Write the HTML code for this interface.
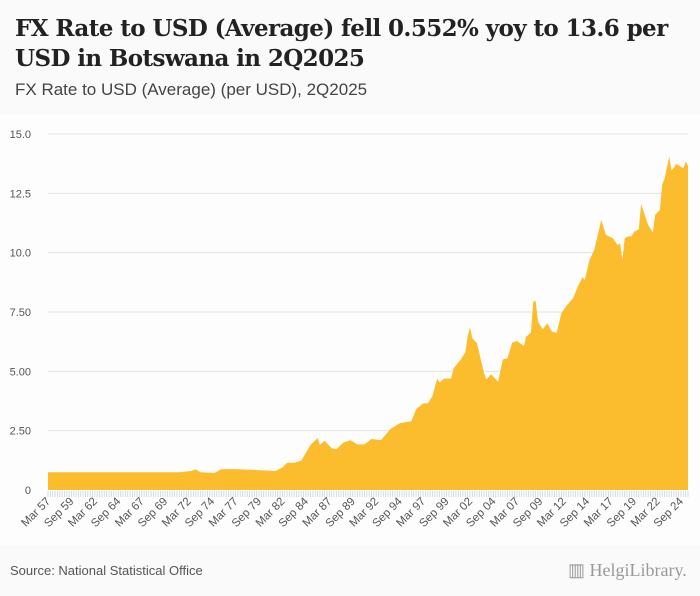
<!DOCTYPE html>
<html><head><meta charset="utf-8"><style>
body{margin:0;background:#fafafa;width:700px;height:596px;overflow:hidden;font-family:"Liberation Sans",sans-serif}
#title{position:absolute;left:15px;top:14px;width:690px;font:bold 23px/30px "DejaVu Serif","Liberation Serif",serif;color:#222;letter-spacing:-0.6px;white-space:nowrap}
#sub{position:absolute;left:15px;top:80px;font-size:17px;color:#444}
#src{position:absolute;left:10px;top:563px;font-size:13px;color:#555}
#logo{position:absolute;left:568px;top:560px;font:18px "Liberation Serif",serif;color:#999}
</style></head><body>
<div id="title">FX Rate to USD (Average) fell 0.552% yoy to 13.6 per<br>USD in Botswana in 2Q2025</div>
<div id="sub">FX Rate to USD (Average) (per USD), 2Q2025</div>
<svg id="chart" width="700" height="596" style="position:absolute;left:0;top:0"></svg>
<div id="src">Source: National Statistical Office</div>
<div id="logo">▥ HelgiLibrary.</div>
<script>
const quarterIdx=[0,56,61,63,65,71,74,80,86,93,97,100,102,105,108,112,115,116,118,121,123,126,129,132,135,138,142,146,150,155,157,160,162,164,166,167,169,172,173,176,178,179,180,181,183,185,186,187,189,192,194,196,198,200,203,204,206,207,208,209,211,213,215,217,219,221,224,226,228,229,231,233,236,238,241,243,244,245,246,247,249,250,252,253,256,258,259,261,262,263,265,266,268,271,272,273];
const values=[0.75,0.75,0.8,0.87,0.75,0.72,0.88,0.88,0.85,0.82,0.8,0.95,1.15,1.15,1.24,1.9,2.19,1.9,2.08,1.76,1.72,2.0,2.1,1.92,1.92,2.15,2.1,2.56,2.81,2.9,3.4,3.65,3.65,3.96,4.7,4.53,4.7,4.7,5.13,5.48,5.8,6.46,6.86,6.39,6.18,5.34,4.92,4.66,4.87,4.56,5.5,5.55,6.21,6.28,6.07,6.46,6.63,7.94,7.97,7.09,6.77,7.03,6.67,6.63,7.45,7.75,8.08,8.57,8.96,8.85,9.69,10.11,11.38,10.75,10.6,10.32,10.39,9.69,10.6,10.67,10.7,10.88,10.98,12.05,11.17,10.85,11.59,11.8,12.85,13.13,14.05,13.46,13.74,13.56,13.84,13.67];
const yTicks=[0,2.5,5,7.5,10,12.5,15];
const yTickLabels=["0","2.50","5.00","7.50","10.0","12.5","15.0"];
const xLabels=["Mar 57","Sep 59","Mar 62","Sep 64","Mar 67","Sep 69","Mar 72","Sep 74","Mar 77","Sep 79","Mar 82","Sep 84","Mar 87","Sep 89","Mar 92","Sep 94","Mar 97","Sep 99","Mar 02","Sep 04","Mar 07","Sep 09","Mar 12","Sep 14","Mar 17","Sep 19","Mar 22","Sep 24"];
const nQ=274;
const NS="http://www.w3.org/2000/svg";
const svg=document.getElementById('chart');
const x0=48,x1=688,yb=490,yt=134;
const X=q=>x0+q*(x1-x0)/(nQ-1);
const Y=v=>yb-v*(yb-yt)/15;
function mk(t,a){const e=document.createElementNS(NS,t);for(const k in a)e.setAttribute(k,a[k]);svg.appendChild(e);return e;}
const bg=mk('rect',{x:0,y:115,width:700,height:430,fill:'#fdfdfd'});


yTicks.forEach((v,i)=>{
  if(v>0){const g=mk('line',{x1:x0,x2:x1,y1:Y(v),y2:Y(v),stroke:'#e2e2e2','stroke-width':1});
  
  }
  const t=mk('text',{x:31,y:Y(v)+4,'text-anchor':'end','font-size':11,fill:'#555'});
  t.textContent=yTickLabels[i];
  
  
});
let d='M'+X(quarterIdx[0])+','+yb;
quarterIdx.forEach((q,i)=>{d+=' L'+X(q).toFixed(1)+','+Y(values[i]).toFixed(1);});
d+=' L'+X(quarterIdx[quarterIdx.length-1])+','+yb+' Z';
const area=mk('path',{d:d,fill:'#fbbc2e'});


for(let q=0;q<nQ;q++){
  const tk=mk('line',{x1:X(q),x2:X(q),y1:491,y2:497,stroke:'#c9d3e6','stroke-width':0.8});
  
  
}
xLabels.forEach((l,i)=>{
  const xx=X(i*10)+3,yy=502;
  const t=mk('text',{x:xx,y:yy,'text-anchor':'end','font-size':11.5,fill:'#555',transform:`rotate(-45 ${xx} ${yy})`});
  t.textContent=l;
  
  
});
</script>
</body></html>
